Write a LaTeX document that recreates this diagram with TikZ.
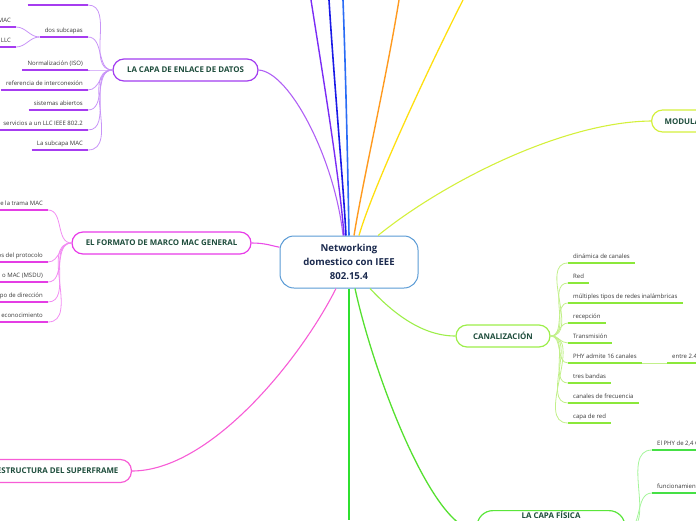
\documentclass[tikz,border=0pt]{standalone}
\usepackage{fontspec}
\setmainfont{Open Sans}
\newcommand\leaffont{\fontsize{6}{7}\selectfont}
\newcommand\topicfont{\fontsize{7.9}{9}\selectfont\bfseries}
\newcommand\rootfont{\fontsize{9.6}{14}\selectfont\bfseries}

\begin{document}
\begin{tikzpicture}[x=1pt,y=-1pt,
  topic/.style={draw=#1, line width=1.2pt, rounded corners=11pt, fill=white, text=topictext, font=\topicfont, minimum height=22pt, inner xsep=13pt},
  leafW/.style={anchor=south east, text=leaftext, font=\leaffont, inner xsep=5pt, inner ysep=2pt, text height=5pt, text depth=2pt},
  leafE/.style={leafW, anchor=south west},
  uline/.style={draw=#1, line width=1.6pt},
  twig/.style={draw=#1, line width=0.8pt},
  branch/.style={draw=#1, line width=1.1pt}]
%Define all colors here.

\definecolor{rootdraw}{RGB}{90,155,213}
\definecolor{roottext}{RGB}{27,42,78}
\definecolor{topictext}{RGB}{30,77,60}
\definecolor{leaftext}{RGB}{55,55,55}

\definecolor{enlacedraw}{RGB}{162,60,240}
\definecolor{enlaceline}{RGB}{166,60,240}
\definecolor{enlacetwig}{RGB}{200,148,247}
\definecolor{enlacebranch}{RGB}{176,96,245}

\definecolor{formatodraw}{RGB}{232,59,232}
\definecolor{formatoline}{RGB}{228,62,228}
\definecolor{formatotwig}{RGB}{242,140,242}
\definecolor{formatobranch}{RGB}{234,76,232}

\definecolor{estrucdraw}{RGB}{247,92,214}
\definecolor{canaldraw}{RGB}{157,238,74}
\definecolor{canalline}{RGB}{139,232,58}
\definecolor{canaltwig}{RGB}{194,240,138}
\definecolor{moduldraw}{RGB}{212,240,60}
\definecolor{fisicadraw}{RGB}{90,230,58}
\definecolor{fisicaline}{RGB}{69,224,69}
\definecolor{fisicatwig}{RGB}{164,245,154}

\definecolor{topviolet}{RGB}{122,44,245}
\definecolor{topblue}{RGB}{26,26,230}
\definecolor{toproyal}{RGB}{42,108,245}
\definecolor{toporange}{RGB}{255,154,31}
\definecolor{topyellow}{RGB}{255,223,16}
\definecolor{botgreen}{RGB}{47,224,47}
\definecolor{botfisica}{RGB}{85,224,48}

\useasboundingbox (0,0) rectangle (696,520);

\node(root) at (349,262) [draw=rootdraw, line width=1pt, rounded corners=14pt, fill=white, text=roottext, font=\rootfont, align=center, minimum width=138pt, minimum height=52pt] {Networking\\domestico con IEEE\\802.15.4};

\node(enlace) at (185.5,70) [topic=enlacedraw, minimum width=145pt] {LA CAPA DE ENLACE DE DATOS};
\node(formato) at (161.5,243) [topic=formatodraw, minimum width=179pt] {EL FORMATO DE MARCO MAC GENERAL};
\node(estructura) at (132,471) [topic=estrucdraw, anchor=east, minimum height=23pt] {ESTRUCTURA DEL SUPERFRAME};
\node(canal) at (503,336) [topic=canaldraw, minimum width=94pt] {CANALIZACIÓN};
\node(modul) at (651,121) [topic=moduldraw, anchor=west] {MODULACIÓN};
\node(fisica) at (551,510) [topic=fisicadraw, anchor=north, minimum width=148pt, minimum height=0pt, inner ysep=1pt, rounded corners=16pt, align=center] {LA CAPA FÍSICA\\[20pt]~};

% enlace
\node(e0) at (88,5) [leafW, minimum width=60pt] {};
\node(dos) at (88,37) [leafW] {dos subcapas};
\node(mac) at (16,27) [leafW] {MAC};
\node(llc) at (16,47) [leafW] {LLC};
\foreach \t/\y [count=\i] in {Normalización (ISO)/70, referencia de interconexión/90, sistemas abiertos/110, servicios a un LLC IEEE 802.2/130, La subcapa MAC/150}
  \node(e\i) at (88,\y) [leafW] {\t};
\foreach \n in {e0,dos,e1,e2,e3,e4,e5}
  \draw[twig=enlacetwig] (enlace.west) to[out=180,in=0] (\n.south east);
\foreach \n in {mac,llc}
  \draw[twig=enlacetwig] (dos.south west) to[out=180,in=0] (\n.south east);
\foreach \n in {e0,dos,mac,llc,e1,e2,e3,e4,e5}
  \draw[uline=enlaceline] (\n.south west) -- (\n.south east);

% formato
\foreach \t/\y [count=\i] in {e la trama MAC/210, os del protocolo/262, o MAC (MSDU)/282, po de dirección/302, econocimiento/322}
  \node(f\i) at (48,\y) [leafW] {\t};
\foreach \i in {1,...,5} {
  \draw[twig=formatotwig] (formato.west) to[out=180,in=0] (f\i.south east);
  \draw[uline=formatoline] (f\i.south west) -- (f\i.south east);
}

% canal
\foreach \t [count=\i] in {dinámica de canales, Red, múltiples tipos de redes inalámbricas, recepción, Transmisión, PHY admite 16 canales, tres bandas, canales de frecuencia, capa de red}
  \node(c\i) at (568,{243+20*\i}) [leafE] {\t};
\node(entre) at (667,363) [leafE] {entre 2.4};
\foreach \i in {1,...,9} {
  \draw[twig=canaltwig] (canal.east) to[out=0,in=180] (c\i.south west);
  \draw[uline=canalline] (c\i.south west) -- (c\i.south east);
}
\draw[twig=canaltwig] (c6.south east) -- (entre.south west);
\draw[uline=canalline] (entre.south west) -- (entre.south east);

% fisica
\node(p1) at (652,450) [leafE] {El PHY de 2,4 GHz};
\node(p2) at (652,493) [leafE] {funcionamiento};
\foreach \i in {1,2} {
  \draw[twig=fisicatwig] (fisica.east) to[out=0,in=180] (p\i.south west);
  \draw[uline=fisicaline] (p\i.south west) -- (p\i.south east);
}

% branches
\coordinate (t1) at (311,0);
\coordinate (t2) at (329,0);
\coordinate (t3) at (343,0);
\coordinate (t4) at (399,0);
\coordinate (t5) at (463,0);
\coordinate (b1) at (349,520);

\draw[branch=enlacebranch] (enlace.east) .. controls (290,72) and (335,160) .. ([xshift=-6pt]root.north);
\draw[branch=formatobranch] (formato.east) .. controls (266,243) and (272,246) .. (root.168);
\draw[branch=estrucdraw] (estructura.east) .. controls (210,471) and (300,360) .. ([xshift=-13pt]root.south);
\draw[branch=topviolet, line width=1.4pt] (t1) .. controls (322,70) and (340,180) .. ([xshift=-5pt]root.north);
\draw[branch=topblue, line width=1.6pt] (t2) .. controls (334,80) and (343,180) .. ([xshift=-3pt]root.north);
\draw[branch=toproyal, line width=1.6pt] (t3) .. controls (346,80) and (348,180) .. (root.north);
\draw[branch=toporange, line width=1.4pt] (t4) .. controls (386,80) and (363,180) .. ([xshift=5pt]root.north);
\draw[branch=topyellow, line width=1.3pt] (t5) .. controls (425,75) and (372,190) .. ([xshift=10pt]root.north);
\draw[branch=moduldraw] (modul.west) .. controls (560,122) and (440,185) .. ([xshift=29pt]root.north);
\draw[branch=canaldraw] ([xshift=21pt]root.south) .. controls (390,310) and (420,336) .. (canal.west);
\draw[branch=botgreen, line width=1.5pt] (root.south) -- (b1);
\draw[branch=botfisica, line width=1.3pt] ([xshift=6pt]root.south) .. controls (375,380) and (435,533) .. (fisica.west);
\end{tikzpicture}
\end{document}
